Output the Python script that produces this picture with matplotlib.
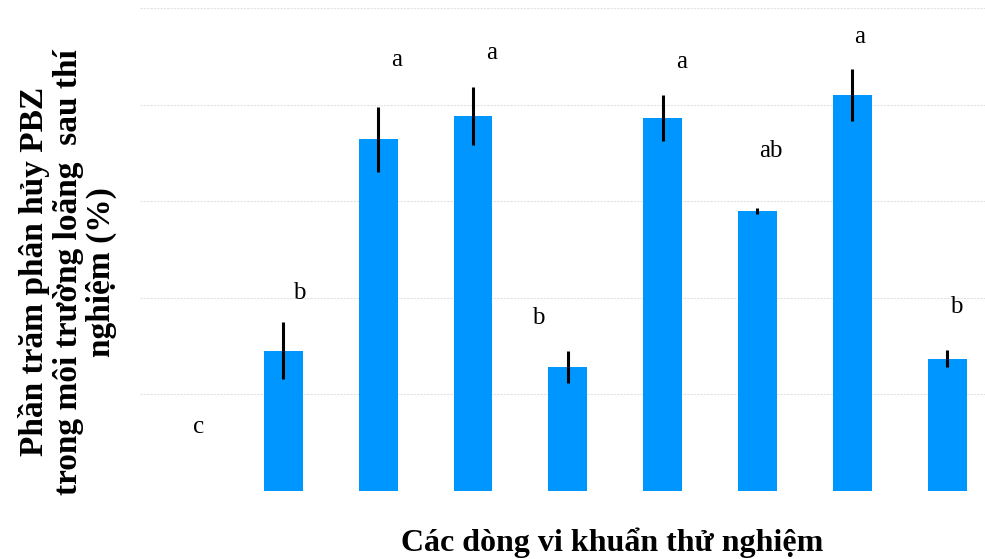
import matplotlib
matplotlib.use("Agg")
import matplotlib.pyplot as plt

strains = ["1", "2", "3", "4", "5", "6", "7", "8", "9"]
values = [0.0, 14.5, 36.4, 38.8, 12.8, 38.6, 29.0, 41.0, 13.7]
errors = [0.0, 2.95, 3.4, 3.0, 1.65, 2.4, 0.3, 2.65, 0.85]
letters = ["c", "b", "a", "a", "b", "a", "ab", "a", "b"]
letter_x = [0.11, 1.17, 2.19, 3.20, 3.69, 5.20, 6.14, 7.08, 8.10]
letter_y = [6.6, 20.5, 44.6, 45.3, 17.9, 44.4, 35.2, 47.0, 19.1]
grid_vals = [0, 10, 20, 30, 40, 50]

fig = plt.figure(figsize=(9.85, 5.59), dpi=100)
ax = fig.add_axes([0.142, 0.1216, 0.858, 0.8641])
x = list(range(len(strains)))
ax.bar(x, values, width=0.41, color="#0096FF", zorder=2)
for xi, v, e in zip(x, values, errors):
    if e > 0:
        ax.errorbar(xi, v, yerr=e, fmt="none", ecolor="black", elinewidth=2.2, capsize=0, zorder=3)
for lx, ly, t in zip(letter_x, letter_y, letters):
    ax.text(lx, ly, t, ha="center", va="center", fontsize=18, family="Liberation Serif")
ax.set_xlim(-0.513, 8.40)
ax.set_ylim(0, 50)
ax.set_yticks(grid_vals)
ax.yaxis.grid(True, color="#e2e2e2", linewidth=0.8, linestyle=(0, (2, 1)), zorder=0)
ax.tick_params(left=False, bottom=False, labelleft=False, labelbottom=False)
for s in ax.spines.values():
    s.set_visible(False)

fig.text(0.069, 0.514, "Phần trăm phân hủy PBZ\ntrong môi trường loãng  sau thí\nnghiệm (%)",
         rotation=90, ha="center", va="center", multialignment="center",
         fontsize=24, fontweight="bold", family="Liberation Serif", linespacing=1.1)
fig.text(0.621, 0.029, "Các dòng vi khuẩn thử nghiệm", ha="center", va="center",
         fontsize=23, fontweight="bold", family="Liberation Serif")

fig.savefig("out.png", dpi=100)
